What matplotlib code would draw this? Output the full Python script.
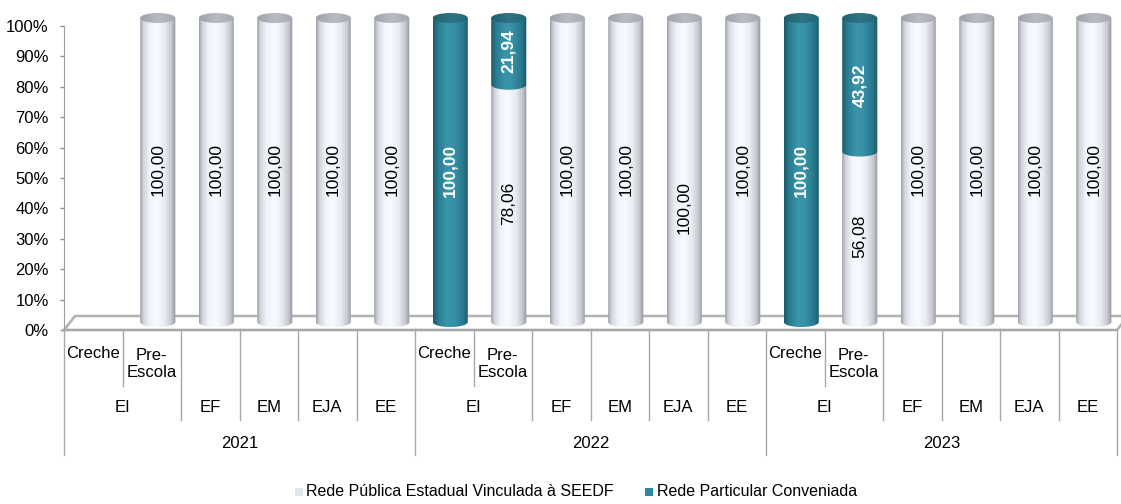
import numpy as np
import matplotlib
matplotlib.use('Agg')
import matplotlib.pyplot as plt
from matplotlib.path import Path
from matplotlib.patches import PathPatch, Ellipse, Rectangle, Polygon
from matplotlib.colors import LinearSegmentedColormap
import matplotlib.transforms as mtransforms

plt.rcParams['font.family'] = ['Liberation Sans', 'DejaVu Sans']

# ---------------- data ----------------
years = ['2021', '2022', '2023']
groups = ['EI', 'EF', 'EM', 'EJA', 'EE']
group_sizes = [2, 1, 1, 1, 1]
subcats = ['Creche', 'Pre-\nEscola', '', '', '', '']
publica = [np.nan, 100.00, 100.00, 100.00, 100.00, 100.00,
           0.00, 78.06, 100.00, 100.00, 100.00, 100.00,
           0.00, 56.08, 100.00, 100.00, 100.00, 100.00]
particular = [np.nan, 0.00, 0.00, 0.00, 0.00, 0.00,
              100.00, 21.94, 0.00, 0.00, 0.00, 0.00,
              100.00, 43.92, 0.00, 0.00, 0.00, 0.00]
series_names = ['Rede Pública Estadual Vinculada à SEEDF', 'Rede Particular Conveniada']
yticks = list(range(0, 101, 10))

# ---------------- style ----------------
W, H = 1121, 504
L, R, B, T = 64, 1117, 330, 26
YMAX = 107
PX = (B - T) / 100.0          # pixels per y unit
TOP = B - YMAX * PX           # axes top pixel
fig = plt.figure(figsize=(W / 100, H / 100), dpi=100)
ax = fig.add_axes([L / W, (H - B) / H, (R - L) / W, (B - TOP) / H])
n = len(publica)

off = mtransforms.ScaledTranslation(6 / 100, 8 / 100, fig.dpi_scale_trans)
trans = ax.transData + off

HW = 0.30   # half bar width (x data)
EH = 1.65   # half ellipse height (y data)

cm_white = LinearSegmentedColormap.from_list('w', [
    (0.0, '#9a9ea6'), (0.10, '#d2d6dd'), (0.28, '#f2f5fb'), (0.48, '#f8faff'),
    (0.70, '#e7eaf0'), (0.88, '#c4c7ce'), (1.0, '#8e9199')])
cm_teal = LinearSegmentedColormap.from_list('t', [
    (0.0, '#1b5a6a'), (0.15, '#2a7d91'), (0.40, '#3a94aa'), (0.60, '#3790a6'),
    (0.85, '#27778b'), (1.0, '#1b5767')])
cm_white_cap = LinearSegmentedColormap.from_list('wc', ['#9ea1a8', '#b9bcc3', '#a6a9b0'])
cm_teal_cap = LinearSegmentedColormap.from_list('tc', ['#215f6f', '#2e7486', '#246676'])
styles = [
    dict(body=cm_white, cap=cm_white_cap, color='black', weight='normal'),
    dict(body=cm_teal, cap=cm_teal_cap, color='white', weight='bold'),
]
label_y_override = {10: 37.5}

grad = np.linspace(0, 1, 256).reshape(1, -1)


def fill_gradient(patch, cmap, xc, ylo, yhi, z):
    patch.set_transform(trans)
    patch.set_facecolor('none')
    patch.set_edgecolor('none')
    ax.add_patch(patch)
    im = ax.imshow(grad, cmap=cmap, extent=[xc - HW, xc + HW, ylo, yhi],
                   aspect='auto', interpolation='bilinear', zorder=z)
    im.set_transform(trans)
    im.set_clip_path(patch)


def body_path(xc, y0, y1):
    t = np.linspace(np.pi, 2 * np.pi, 50)
    arc = np.column_stack([xc + HW * np.cos(t), y0 + EH * np.sin(t)])
    verts = np.vstack([[xc - HW, y1], arc, [xc + HW, y1], [xc - HW, y1]])
    codes = [Path.MOVETO] + [Path.LINETO] * (len(verts) - 2) + [Path.CLOSEPOLY]
    return Path(verts, codes)


ax.set_xlim(0, n)
ax.set_ylim(0, YMAX)

# floor
p_fl = ax.transData.transform((0, 0))
p_fr = ax.transData.transform((n, 0))
floor = Polygon([p_fl, p_fl + [11, 14], p_fr + [11, 14], p_fr], closed=True,
                transform=mtransforms.IdentityTransform(), facecolor='white',
                edgecolor='#b2b2b2', lw=1.8, zorder=0.5, clip_on=False)
ax.add_patch(floor)

# bars
for i in range(n):
    xc = i + 0.5
    vals = [publica[i], particular[i]]
    segs = []
    bottom = 0.0
    for s, v in enumerate(vals):
        if v is None or np.isnan(v) or v <= 0:
            continue
        segs.append((s, bottom, bottom + v, v))
        bottom += v
    for k, (s, y0, y1, v) in enumerate(segs):
        st = styles[s]
        z = 2 + k * 0.1
        fill_gradient(PathPatch(body_path(xc, y0, y1)), st['body'], xc, y0 - EH, y1, z)
        if k == len(segs) - 1:
            fill_gradient(Ellipse((xc, y1), 2 * HW, 2 * EH), st['cap'], xc,
                          y1 - EH, y1 + EH, z + 0.05)
        ly = label_y_override.get(i, y0 + v / 2) if s == 0 else y0 + v / 2
        ax.text(xc, ly, f'{v:.2f}'.replace('.', ','), transform=trans,
                rotation=90, ha='center', va='center', fontsize=12.5,
                color=st['color'], fontweight=st['weight'], zorder=5)

ax.set_xlim(0, n)
ax.set_ylim(0, YMAX)
ax.set_yticks(yticks)
ax.set_yticklabels([f'{t}%' for t in yticks])
ax.tick_params(axis='y', length=3, width=1, color='#909090', pad=8, labelsize=12)
ax.set_xticks([])
for sp in ['top', 'right']:
    ax.spines[sp].set_visible(False)
ax.spines['left'].set_color('#a0a0a0')
ax.spines['left'].set_bounds(0, 100)
ax.spines['bottom'].set_color('#a8a8a8')
ax.spines['bottom'].set_linewidth(1.6)
ax.patch.set_alpha(0)

# multi-level category axis
bt = mtransforms.blended_transform_factory(ax.transData, ax.transAxes)


def yf(py):
    return -(py - B) / (B - TOP)


per_year = len(subcats)
line_kw = dict(color='#a8a8a8', lw=1, transform=bt, clip_on=False)
for j in range(n + 1):
    m = j % per_year
    if m == 0:
        ax.plot([j, j], [0, yf(455)], **line_kw)
    elif m == 1:
        ax.plot([j, j], [0, yf(386)], **line_kw)
    else:
        ax.plot([j, j], [0, yf(420)], **line_kw)

for yi, yr in enumerate(years):
    base = yi * per_year
    for k, sc in enumerate(subcats):
        if sc:
            ax.text(base + k + 0.5, yf(353) if '\n' not in sc else yf(364), sc,
                    transform=bt, ha='center', va='center', fontsize=12,
                    multialignment='center', linespacing=1.15)
    pos = base
    for g, gs in zip(groups, group_sizes):
        ax.text(pos + gs / 2, yf(408), g, transform=bt, ha='center',
                va='center', fontsize=12)
        pos += gs
    ax.text(base + per_year / 2, yf(443), yr, transform=bt, ha='center',
            va='center', fontsize=12)

# legend
leg_colors = ['#dfe6ef', '#2f879d']
leg_sq_x = [295, 645]
leg_tx_x = [306, 657]
for c, sx, tx, name in zip(leg_colors, leg_sq_x, leg_tx_x, series_names):
    fig.add_artist(Rectangle((sx / W, (H - 496) / H), 8 / W, 8 / H,
                             transform=fig.transFigure, facecolor=c,
                             edgecolor='none'))
    fig.text(tx / W, (H - 492) / H, name, ha='left', va='center', fontsize=11.5)

fig.savefig('out.png', dpi=100)
